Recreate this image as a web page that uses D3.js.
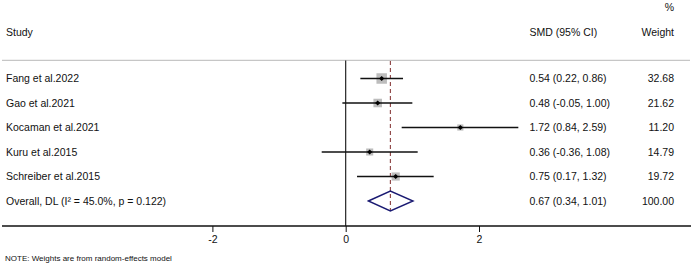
<!DOCTYPE html>
<html>
<head>
<meta charset="utf-8">
<script src="https://cdn.jsdelivr.net/npm/d3@7"></script>
<style>
  body { margin: 0; background: #fff; }
  text { font-family: "Liberation Sans", Arial, Helvetica, sans-serif; fill: #111; }
</style>
</head>
<body>
<svg id="chart" width="694" height="267"></svg>
<script>
var studies = ["Fang et al.2022", "Gao et al.2021", "Kocaman et al.2021", "Kuru et al.2015", "Schreiber et al.2015"];
var smd = [0.54, 0.48, 1.72, 0.36, 0.75];
var lower = [0.22, -0.05, 0.84, -0.36, 0.17];
var upper = [0.86, 1.00, 2.59, 1.08, 1.32];
var weights = [32.68, 21.62, 11.20, 14.79, 19.72];
var overallLabel = "Overall, DL (I\u00b2 = 45.0%, p = 0.122)";
var overall = { est: 0.67, lo: 0.34, hi: 1.01, weight: 100.00 };
var xTicks = [-2, 0, 2];

var svg = d3.select("#chart");
var W = 694, H = 267;

var x = d3.scaleLinear().domain([0, 2]).range([345.7, 479]);
var y = d3.scaleLinear().domain([0, 5]).range([78.5, 201]);
var side = d3.scaleSqrt().domain([0, 32.68]).range([0, 10.5]);

var fs = 10.5;
var ciCol = 529.5, wCol = 674;

// header
svg.append("text").attr("x", wCol).attr("y", 11).attr("text-anchor", "end")
  .style("font-size", fs + "px").text("%");
svg.append("text").attr("x", 6).attr("y", 35.5).style("font-size", fs + "px").text("Study");
svg.append("text").attr("x", ciCol).attr("y", 35.5).style("font-size", fs + "px").text("SMD (95% CI)");
svg.append("text").attr("x", wCol).attr("y", 35.5).attr("text-anchor", "end")
  .style("font-size", fs + "px").text("Weight");

svg.append("line").attr("x1", 2).attr("x2", 690).attr("y1", 60.3).attr("y2", 60.3)
  .attr("stroke", "#b8b8b8").attr("stroke-width", 1);

// zero line
svg.append("line").attr("x1", x(0)).attr("x2", x(0)).attr("y1", 60.5).attr("y2", 226)
  .attr("stroke", "#111").attr("stroke-width", 1.1);

// overall dashed line
svg.append("line").attr("x1", x(overall.est)).attr("x2", x(overall.est))
  .attr("y1", 61).attr("y2", y(5) + 10)
  .attr("stroke", "#7f2b2b").attr("stroke-width", 1).attr("stroke-dasharray", "4,3");

var rows = studies.map(function (s, i) {
  return { name: s, est: smd[i], lo: lower[i], hi: upper[i], w: weights[i], i: i };
});

var g = svg.selectAll(".study").data(rows).enter().append("g").attr("class", "study");

g.append("rect")
  .attr("x", function (d) { return x(d.est) - side(d.w) / 2; })
  .attr("y", function (d) { return y(d.i) - side(d.w) / 2; })
  .attr("width", function (d) { return side(d.w); })
  .attr("height", function (d) { return side(d.w); })
  .attr("fill", "#bdbdbd");

g.append("line")
  .attr("x1", function (d) { return x(d.lo); })
  .attr("x2", function (d) { return x(d.hi); })
  .attr("y1", function (d) { return y(d.i); })
  .attr("y2", function (d) { return y(d.i); })
  .attr("stroke", "#111").attr("stroke-width", 1.5);

g.append("path")
  .attr("d", function (d) {
    var cx = x(d.est), cy = y(d.i), r = 2.6;
    return "M" + (cx - r) + "," + cy + "L" + cx + "," + (cy - r) + "L" + (cx + r) + "," + cy + "L" + cx + "," + (cy + r) + "Z";
  })
  .attr("fill", "#000");

g.append("text").attr("x", 6).attr("y", function (d) { return y(d.i) + 3.7; })
  .style("font-size", fs + "px").text(function (d) { return d.name; });

g.append("text").attr("x", ciCol).attr("y", function (d) { return y(d.i) + 3.7; })
  .style("font-size", fs + "px")
  .text(function (d) { return d.est.toFixed(2) + " (" + d.lo.toFixed(2) + ", " + d.hi.toFixed(2) + ")"; });

g.append("text").attr("x", wCol).attr("y", function (d) { return y(d.i) + 3.7; })
  .attr("text-anchor", "end").style("font-size", fs + "px")
  .text(function (d) { return d.w.toFixed(2); });

// overall
var oy = y(5);
svg.append("path")
  .attr("d", "M" + x(overall.lo) + "," + oy + "L" + x(overall.est) + "," + (oy - 10) +
    "L" + x(overall.hi) + "," + oy + "L" + x(overall.est) + "," + (oy + 10) + "Z")
  .attr("fill", "none").attr("stroke", "#1a1a72").attr("stroke-width", 1.4);

svg.append("text").attr("x", 6).attr("y", oy + 3.7).style("font-size", fs + "px").text(overallLabel);
svg.append("text").attr("x", ciCol).attr("y", oy + 3.7).style("font-size", fs + "px")
  .text(overall.est.toFixed(2) + " (" + overall.lo.toFixed(2) + ", " + overall.hi.toFixed(2) + ")");
svg.append("text").attr("x", wCol).attr("y", oy + 3.7).attr("text-anchor", "end")
  .style("font-size", fs + "px").text(overall.weight.toFixed(2));

// axis
svg.append("line").attr("x1", 2).attr("x2", 691).attr("y1", 226).attr("y2", 226)
  .attr("stroke", "#111").attr("stroke-width", 1.3);

var axis = svg.append("g").attr("transform", "translate(0,226)")
  .call(d3.axisBottom(x).tickValues(xTicks).tickSize(6).tickPadding(4).tickFormat(function (d) { return String(d); }));
axis.select(".domain").remove();
axis.selectAll(".tick line").attr("stroke", "#111");
axis.selectAll(".tick text").style("font-size", fs + "px")
  .style("font-family", "'Liberation Sans', Arial, sans-serif").attr("fill", "#111");

svg.append("text").attr("x", 5).attr("y", 261).style("font-size", "8px")
  .text("NOTE: Weights are from random-effects model");
</script>
</body>
</html>
